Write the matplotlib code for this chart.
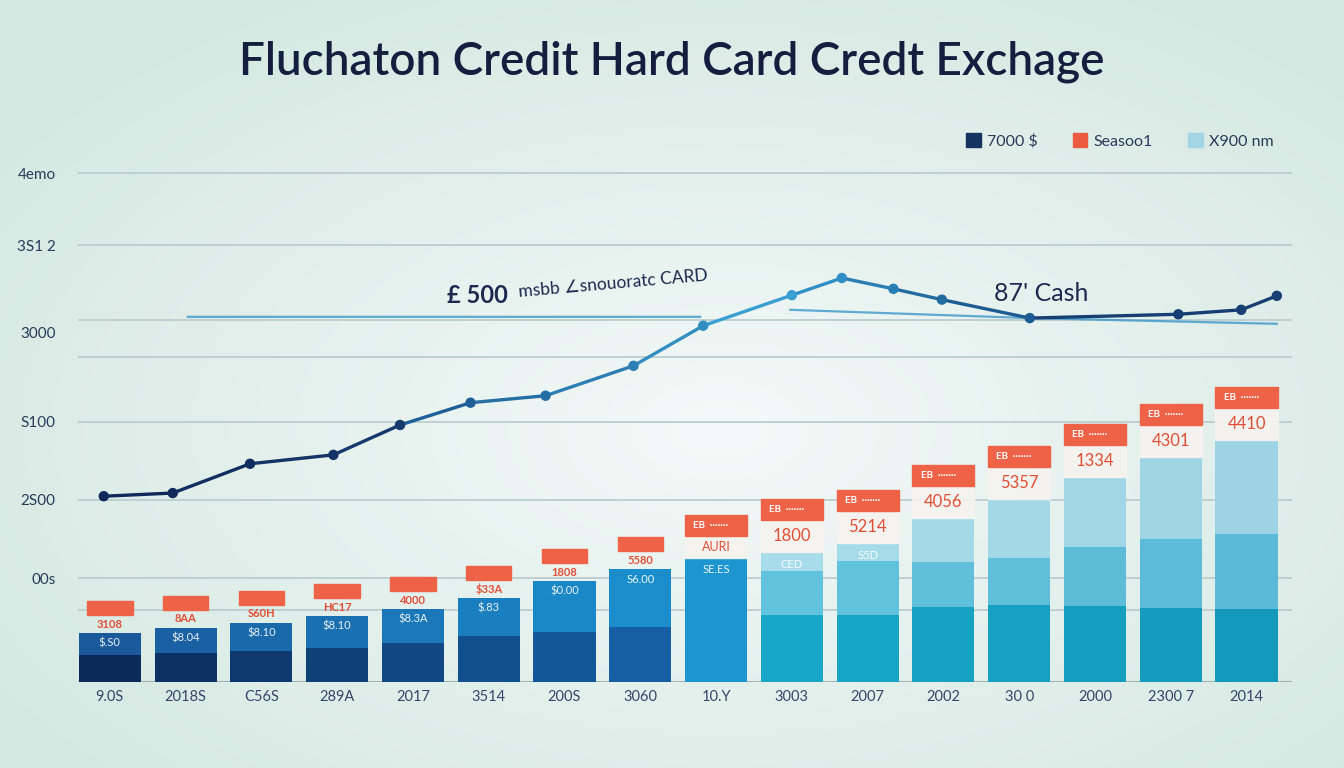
import numpy as np
import matplotlib.pyplot as plt
from matplotlib.patches import Patch, Rectangle
from matplotlib.collections import LineCollection
from matplotlib.colors import to_rgb

plt.rcParams['font.family'] = ['Lato', 'DejaVu Sans']

# data
x_labels = ["9.0S", "2018S", "C56S", "289A", "2017", "3514", "200S", "3060",
            "10.Y", "3003", "2007", "2002", "30 0", "2000", "2300 7", "2014"]
seg_bottom = [210, 230, 245, 265, 305, 360, 395, 430, 975, 525, 525, 590, 605, 595, 580, 575]
seg_mid = [175, 195, 220, 250, 265, 300, 395, 455, 0, 345, 425, 355, 370, 465, 540, 590]
seg_top = [0, 0, 0, 0, 0, 0, 0, 0, 0, 150, 140, 340, 465, 550, 650, 740]
top_numbers = ["3108", "8AA", "S60H", "HC17", "4000", "$33A", "1808", "5580",
               "AURI", "1800", "5214", "4056", "5357", "1334", "4301", "4410"]
inner_labels = ["$.S0", "$8.04", "$8.10", "$8.10", "$8.3A", "$.83", "$0.00", "S6.00",
                "SE.ES", "CED", "S5D", "", "", "", "", ""]

line_x = [-0.08, 0.83, 1.85, 2.95, 3.83, 4.76, 5.75, 6.91, 7.83, 9.0, 9.66,
          10.34, 10.98, 12.14, 14.1, 14.93, 15.4]
line_y = [1460, 1485, 1715, 1785, 2020, 2195, 2250, 2485, 2800, 3040, 3175,
          3090, 3005, 2860, 2890, 2925, 3035]
ref_x = [1.03, 7.79, np.nan, 8.98, 12.14, 15.4]
ref_y = [2870, 2870, np.nan, 2925, 2860, 2815]

grid_vals = [4000, 3434, 2845, 2554, 2044, 1431, 817, 566]
ytick_vals = [4000, 3434, 2743, 2044, 1431, 817]
ytick_text = ["4emo", "3S1 2", "3000", "S100", "2S00", "00s"]

W, H = 1344, 768
fig = plt.figure(figsize=(W / 100, H / 100), dpi=100)

# soft mint background
bg = fig.add_axes([0, 0, 1, 1], zorder=-10)
yy, xx = np.mgrid[0:H, 0:W]
r = np.sqrt(((xx - 720) / 900.0) ** 2 + ((yy - 430) / 520.0) ** 2)
r = np.clip(r, 0, 1)
c_in = np.array(to_rgb("#f3f9f8"))
c_out = np.array(to_rgb("#d4e8e1"))
img = c_in[None, None, :] * (1 - r[..., None]) + c_out[None, None, :] * r[..., None]
bg.imshow(img, aspect='auto', extent=[0, 1, 0, 1])
bg.axis('off')

ax = fig.add_axes([78 / W, (H - 682) / H, (1292 - 78) / W, (682 - 150) / H])
ax.patch.set_alpha(0)
YMAX = 4181
ax.set_ylim(0, YMAX)
ax.set_xlim(-0.42, 15.6)
PX = YMAX / (682 - 150)  # value units per pixel

for g in grid_vals:
    ax.axhline(g, color="#b8cacd", lw=1.2, zorder=1)
ax.axhline(0, color="#9fb3b8", lw=1.5, zorder=1)


def mix(c1, c2, t):
    a, b = np.array(to_rgb(c1)), np.array(to_rgb(c2))
    return tuple(a * (1 - t) + b * t)


n = len(x_labels)
xs = np.arange(n)
bw = 0.82
c_bot, c_mid, c_top = [], [], []
for i in range(n):
    if i < 8:
        t = i / 7
        c_bot.append(mix("#0b2a5a", "#155fa2", t))
        c_mid.append(mix("#1a5a9c", "#1a8ecd", t))
        c_top.append("#a6dbe9")
    elif i == 8:
        c_bot.append("#1c95d1")
        c_mid.append("#1c95d1")
        c_top.append("#1c95d1")
    else:
        t = (i - 9) / 6
        c_bot.append(mix("#18a7c7", "#1399bc", t))
        c_mid.append(mix("#62c3de", "#5bbad7", t))
        c_top.append(mix("#a8dcea", "#9dd3e4", t))

b1 = np.array(seg_bottom)
b2 = b1 + np.array(seg_mid)
b3 = b2 + np.array(seg_top)
ax.bar(xs, seg_bottom, bw, color=c_bot, zorder=3)
ax.bar(xs, seg_mid, bw, bottom=b1, color=c_mid, zorder=3)
ax.bar(xs, seg_top, bw, bottom=b2, color=c_top, zorder=3)

red = "#ee6247"
for i in range(n):
    top = b3[i]
    if i < 8:
        box_w = 0.6
        y0 = top + 18 * PX
        ax.add_patch(Rectangle((i - box_w / 2, y0), box_w, 14 * PX, color=red, zorder=5))
        ax.text(i, top + 9 * PX, top_numbers[i], color="#e04e34", fontsize=8,
                ha='center', va='center', zorder=6, fontweight='bold')
        ax.text(i, top - 10 * PX, inner_labels[i], color="white", fontsize=8,
                ha='center', va='center', zorder=6, alpha=0.9)
    else:
        gap = 22 if i == 8 else 32
        ax.add_patch(Rectangle((i - bw / 2, top), bw, gap * PX, color="#f5f3f0",
                               alpha=0.92, zorder=5))
        ax.add_patch(Rectangle((i - bw / 2, top + gap * PX), bw, 21 * PX, color=red, zorder=5))
        ax.text(i - 0.3, top + (gap + 10.5) * PX, "EB  ·······", color="white", fontsize=7,
                ha='left', va='center', zorder=6, fontweight='bold')
        ax.text(i, top + gap / 2 * PX, top_numbers[i], color="#e04e34",
                fontsize=12 if i > 8 else 9, ha='center', va='center', zorder=6)
        if inner_labels[i]:
            ax.text(i, top - 12 * PX, inner_labels[i], color="white", fontsize=8,
                    ha='center', va='center', zorder=6, alpha=0.9)

# faint reference line
ax.plot(ref_x, ref_y, color="#3d97c8", lw=1.6, alpha=0.8, zorder=4)

# main line with changing colour
pts = np.column_stack([line_x, line_y])
segs = np.stack([pts[:-1], pts[1:]], axis=1)
seg_cols = []
for k in range(len(segs)):
    if k < 4:
        seg_cols.append(mix("#10295a", "#173e72", k / 4))
    elif k < 9:
        seg_cols.append(mix("#1f5f97", "#3a9fd0", (k - 4) / 4))
    elif k < 13:
        seg_cols.append(mix("#2f8fc4", "#1d5c92", (k - 9) / 3))
    else:
        seg_cols.append("#173f73")
ax.add_collection(LineCollection(segs, colors=seg_cols, linewidths=2.4, zorder=7))
pt_cols = [seg_cols[0]] + seg_cols
ax.scatter(line_x, line_y, s=42, c=pt_cols, zorder=8)

# annotations
ax.text(4.45, 3041, "£ 500", fontsize=17, fontweight='bold', color="#1b2a4e",
        ha='left', va='center', zorder=9)
ax.text(5.38, 3000, "msbb ∠snouoratc CARD", fontsize=12.5, color="#1b2a4e",
        ha='left', va='bottom', rotation=5, zorder=9)
ax.text(11.67, 3057, "87' Cash", fontsize=18, color="#1b2a4e",
        ha='left', va='center', zorder=9)

ax.set_yticks(ytick_vals)
ax.set_yticklabels(ytick_text, fontsize=11, color="#2b3a5a")
ax.set_xticks(xs)
ax.set_xticklabels(x_labels, fontsize=10.5, color="#34466a")
ax.tick_params(axis='both', length=0)
ax.tick_params(axis='y', pad=16)
ax.tick_params(axis='x', pad=6)
for s in ax.spines.values():
    s.set_visible(False)

fig.text(0.5, (H - 62) / H, "Fluchaton Credit Hard Card Credt Exchage", fontsize=33,
         fontweight='semibold', color="#141e3e", ha='center', va='center')

handles = [Patch(color="#15335f", label="7000 $"),
           Patch(color="#ec5b3f", label="Seasoo1"),
           Patch(color="#a3d5e4", label="X900 nm")]
fig.legend(handles=handles, loc='center', bbox_to_anchor=(1120 / W, (H - 141) / H),
           ncol=3, frameon=False, fontsize=11.5, handlelength=0.9, handleheight=0.9,
           columnspacing=2.2, handletextpad=0.4, labelcolor="#2b3a5a")

fig.savefig("out.png", dpi=100)
